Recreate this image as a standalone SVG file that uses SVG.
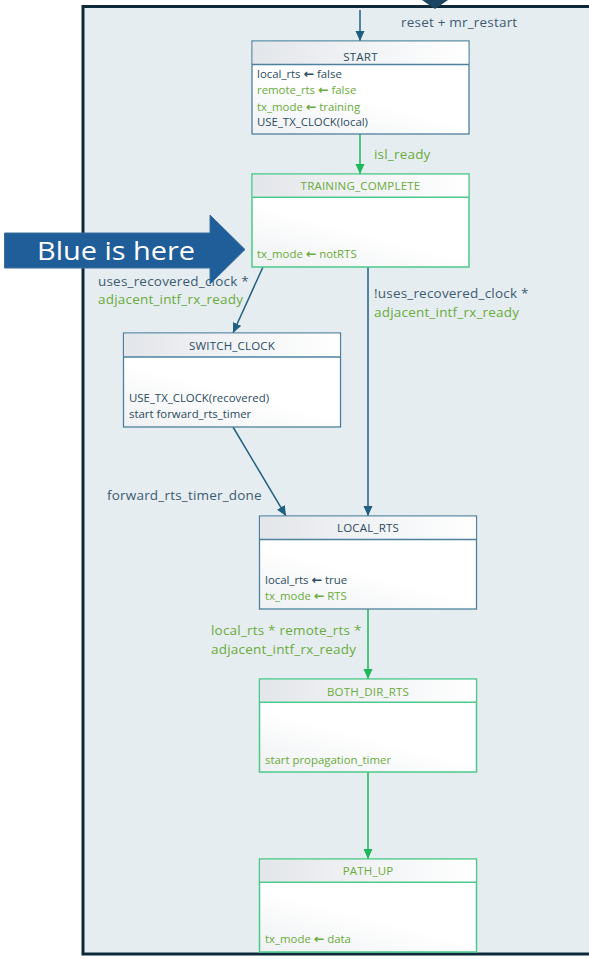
<svg xmlns="http://www.w3.org/2000/svg" width="589" height="959" viewBox="0 0 589 959">
<style>
.t{font-family:"Open Sans","Liberation Sans","DejaVu Sans",sans-serif;font-size:11.4px}
.ttl{text-anchor:middle;font-size:11.5px;letter-spacing:0.2px}
.lbl{font-size:13.5px;letter-spacing:0.2px}
.ar{font-family:"DejaVu Sans",sans-serif;font-size:12.5px;font-weight:bold}
.dk{fill:#2b4b61}
.ld{fill:#3d5b70}
.gr{fill:#6aab3c}
.bx{stroke:#4d819c;stroke-width:1.3}
.bxg{stroke:#4cc98a;stroke-width:1.5}
.hd{fill:url(#hg)}
.bd{fill:url(#bg)}
.cb{stroke:#1f5f80;stroke-width:1.5;fill:none;marker-end:url(#ab)}
.cg{stroke:#1db85a;stroke-width:1.5;fill:none;marker-end:url(#ag)}
</style>
<defs>
<linearGradient id="hg" x1="0" y1="0" x2="1" y2="0"><stop offset="0" stop-color="#e3e6ea"/><stop offset="1" stop-color="#ffffff"/></linearGradient>
<linearGradient id="bg" x1="0" y1="1" x2="0.6" y2="0"><stop offset="0" stop-color="#eef0f2"/><stop offset="0.5" stop-color="#ffffff"/><stop offset="1" stop-color="#ffffff"/></linearGradient>
<marker id="ab" viewBox="0 0 10 9" refX="10" refY="4.5" markerUnits="userSpaceOnUse" markerWidth="10" markerHeight="10" orient="auto"><path d="M0,0 L10,4.5 L0,9 z" fill="#1f5f80"/></marker>
<marker id="ag" viewBox="0 0 10 9" refX="10" refY="4.5" markerUnits="userSpaceOnUse" markerWidth="10" markerHeight="10" orient="auto"><path d="M0,0 L10,4.5 L0,9 z" fill="#1db85a"/></marker>
</defs>
<rect x="0" y="0" width="589" height="959" fill="#ffffff"/>
<g id="frame">
<rect x="83" y="6.5" width="530" height="947.5" fill="#e6edf1" stroke="#0e2a3a" stroke-width="3"/>
<polygon points="422,0 448,0 435,9" fill="#1a4460"/>
</g>
<g id="connectors">
<line class="cb" x1="360" y1="10" x2="360" y2="41"/>
<text class="t lbl ld" x="401" y="27">reset + mr_restart</text>
<line class="cg" x1="360" y1="134" x2="360" y2="174"/>
<text class="t lbl gr" x="374" y="159">isl_ready</text>
<line class="cb" x1="263" y1="267" x2="233" y2="333"/>
<text class="t lbl ld" x="98" y="286">uses_recovered_clock *</text>
<text class="t lbl gr" x="98" y="304">adjacent_intf_rx_ready</text>
<line class="cb" x1="368" y1="267" x2="368" y2="516"/>
<text class="t lbl ld" x="374" y="298">!uses_recovered_clock *</text>
<text class="t lbl gr" x="374" y="317">adjacent_intf_rx_ready</text>
<line class="cb" x1="233" y1="427" x2="286" y2="516"/>
<text class="t lbl ld" x="107" y="500">forward_rts_timer_done</text>
<line class="cg" x1="368" y1="609" x2="368" y2="679"/>
<text class="t lbl gr" x="211" y="635">local_rts * remote_rts *</text>
<text class="t lbl gr" x="211" y="654">adjacent_intf_rx_ready</text>
<line class="cg" x1="368" y1="772" x2="368" y2="859"/>
</g>
<g id="START">
<rect class="bx bd" x="252" y="41" width="217" height="93"/>
<rect class="hd" x="252.7" y="41.7" width="215.6" height="22.6"/>
<line class="bx" x1="252" y1="64.5" x2="469" y2="64.5"/>
<text class="t ttl dk" x="360.5" y="61">START</text>
<text class="t dk" x="257" y="77.5">local_rts <tspan class="ar">←</tspan> false</text>
<text class="t gr" x="257" y="94">remote_rts <tspan class="ar">←</tspan> false</text>
<text class="t gr" x="257" y="110.5">tx_mode <tspan class="ar">←</tspan> training</text>
<text class="t dk" x="257" y="126">USE_TX_CLOCK(local)</text>
</g>
<g id="TRAINING_COMPLETE">
<rect class="bxg bd" x="252" y="174" width="217" height="93"/>
<rect class="hd" x="252.8" y="174.8" width="215.4" height="22"/>
<line class="bxg" x1="252" y1="197.3" x2="469" y2="197.3"/>
<text class="t ttl gr" x="360.5" y="190">TRAINING_COMPLETE</text>
<text class="t gr" x="257" y="258">tx_mode <tspan class="ar">←</tspan> notRTS</text>
</g>
<g id="SWITCH_CLOCK">
<rect class="bx bd" x="123.5" y="333" width="217" height="94"/>
<rect class="hd" x="124.2" y="333.7" width="215.6" height="23"/>
<line class="bx" x1="123.5" y1="357" x2="340.5" y2="357"/>
<text class="t ttl dk" x="232" y="349.5">SWITCH_CLOCK</text>
<text class="t dk" x="129" y="402">USE_TX_CLOCK(recovered)</text>
<text class="t dk" x="129" y="418">start forward_rts_timer</text>
</g>
<g id="LOCAL_RTS">
<rect class="bx bd" x="259.5" y="516" width="217" height="93"/>
<rect class="hd" x="260.2" y="516.7" width="215.6" height="22.6"/>
<line class="bx" x1="259.5" y1="539.5" x2="476.5" y2="539.5"/>
<text class="t ttl dk" x="368" y="532">LOCAL_RTS</text>
<text class="t dk" x="265" y="584">local_rts <tspan class="ar">←</tspan> true</text>
<text class="t gr" x="265" y="600">tx_mode <tspan class="ar">←</tspan> RTS</text>
</g>
<g id="BOTH_DIR_RTS">
<rect class="bxg bd" x="259.5" y="679" width="217" height="93"/>
<rect class="hd" x="260.3" y="679.8" width="215.4" height="22"/>
<line class="bxg" x1="259.5" y1="702.3" x2="476.5" y2="702.3"/>
<text class="t ttl gr" x="368" y="696">BOTH_DIR_RTS</text>
<text class="t gr" x="265" y="764">start propagation_timer</text>
</g>
<g id="PATH_UP">
<rect class="bxg bd" x="259.5" y="859" width="217" height="93"/>
<rect class="hd" x="260.3" y="859.8" width="215.4" height="22"/>
<line class="bxg" x1="259.5" y1="882.3" x2="476.5" y2="882.3"/>
<text class="t ttl gr" x="368" y="875">PATH_UP</text>
<text class="t gr" x="265" y="943">tx_mode <tspan class="ar">←</tspan> data</text>
</g>
<g id="callout">
<polygon points="4.5,233 210,233 210,215 245,249.5 210,284 210,268 4.5,268" fill="#1f5e98" stroke="#3a6e9e" stroke-width="1"/>
<text x="37" y="260" font-family="Open Sans,Liberation Sans,sans-serif" font-size="26" fill="#ffffff" textLength="158" lengthAdjust="spacingAndGlyphs">Blue is here</text>
</g>
</svg>
